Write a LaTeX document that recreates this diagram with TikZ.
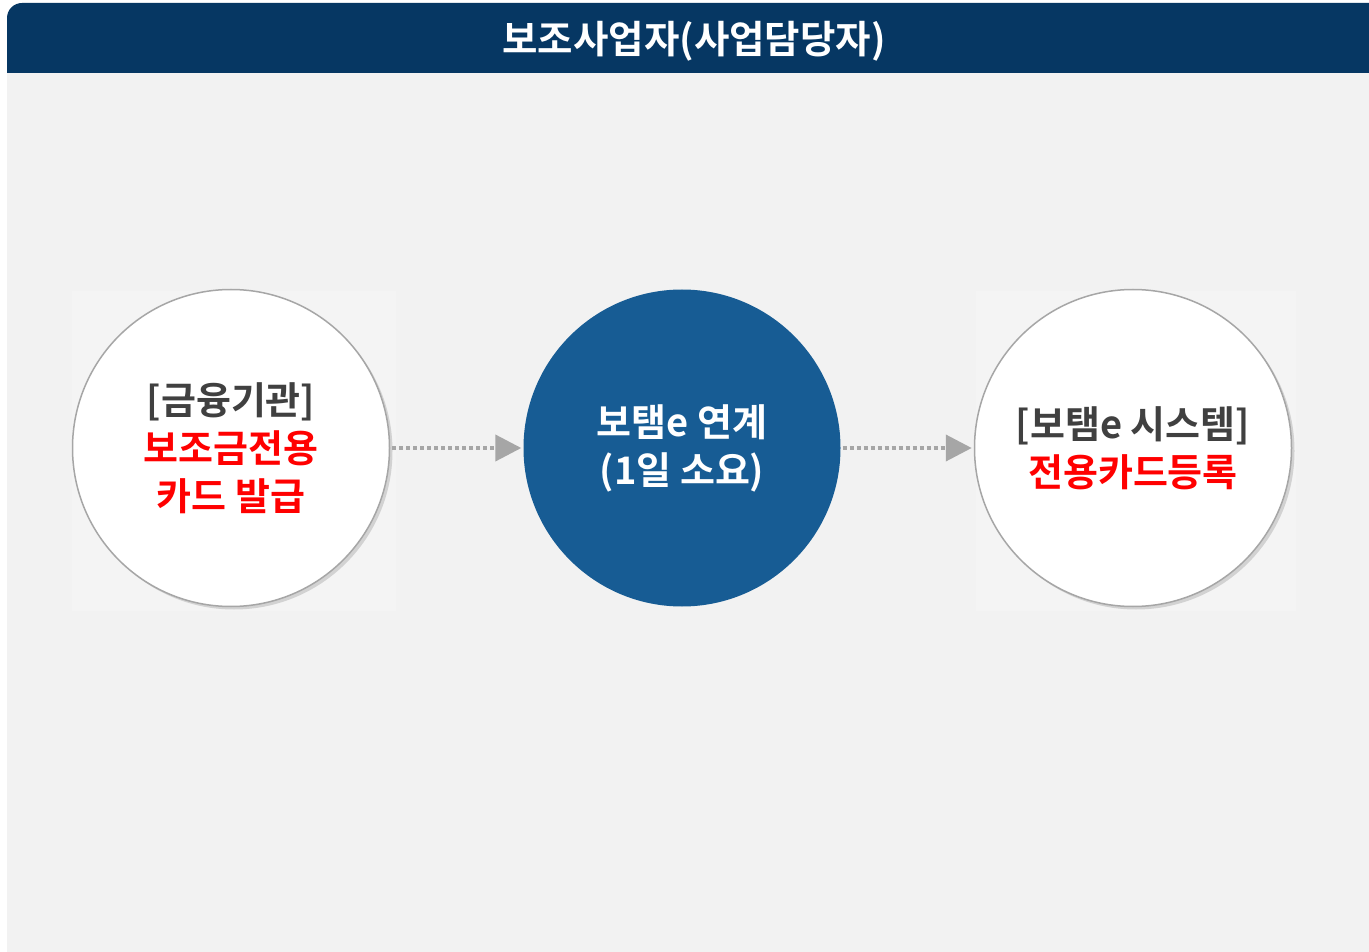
\documentclass[tikz,border=0pt]{standalone}
\usepackage{fontspec}
\setmainfont{Noto Sans CJK KR}[BoldFont={* Bold}]
\usetikzlibrary{arrows.meta}
\definecolor{hdr}{HTML}{063763}
\definecolor{bgc}{HTML}{F2F2F2}
\definecolor{sqc}{HTML}{F4F4F4}
\definecolor{mid}{HTML}{175C94}
\definecolor{txtg}{HTML}{404040}
\definecolor{rd}{HTML}{FF0000}
\definecolor{edgec}{HTML}{A6A6A6}
\definecolor{shd}{HTML}{D2D2D2}
\definecolor{arr}{HTML}{A6A6A6}
\tikzset{
  bubble/.style={circle, minimum size=317pt, inner sep=0pt, align=center,
    font=\fontsize{38}{48}\selectfont\bfseries},
  whitebubble/.style={bubble, fill=white, draw=edgec, line width=1.5pt},
  bluebubble/.style={bubble, fill=mid, text=white},
  shadowdisc/.style={circle, minimum size=317pt, inner sep=0pt, fill=shd},
  flow/.style={draw=arr, line width=4pt, dash pattern=on 4pt off 3pt,
    -{Triangle[length=26pt,width=26pt,fill=arr]}, shorten <=2pt, shorten >=2pt}
}
\begin{document}
\begin{tikzpicture}[x=1pt,y=-1pt]
\useasboundingbox (0,0) rectangle (1369,952);
\fill[white] (0,0) rectangle (1369,952);
\fill[bgc] (7,73) rectangle (1369,952);
\fill[hdr] (7,73) -- (7,18) arc[start angle=180,end angle=270,radius=15] -- (1369,3) -- (1369,73) -- cycle;
\node[text=white, font=\fontsize{38.5}{42}\selectfont\bfseries] (title) at (694,41) {보조사업자(사업담당자)};
% faint squares
\fill[sqc] (72,291) rectangle (396,611);
\fill[sqc] (976,291) rectangle (1296,611);
% shadows
\node[shadowdisc] (s1) at (234,451) {};
\node[shadowdisc] (s3) at (1136,451) {};
% circles
\node[whitebubble] (a) at (231,448) {\color{txtg}[금융기관]\\\color{rd}보조금전용\\\color{rd}카드 발급};
\node[bluebubble] (b) at (682,448) {보탬e 연계\\(1일 소요)};
\node[whitebubble] (c) at (1133,448) {\color{txtg}[보탬e 시스템]\\\color{rd}전용카드등록};
\draw[flow] (a) -- (b);
\draw[flow] (b) -- (c);
\end{tikzpicture}
\end{document}
